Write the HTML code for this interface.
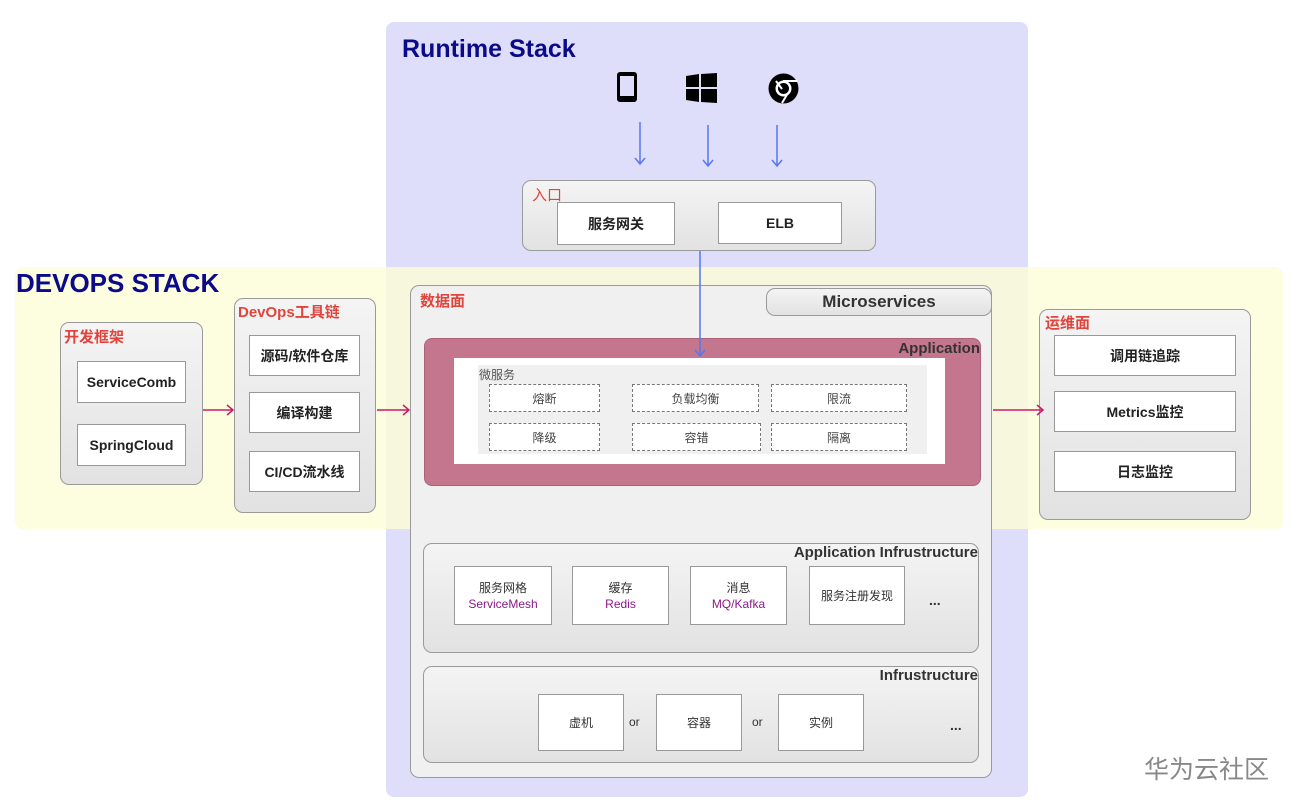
<!DOCTYPE html>
<html><head><meta charset="utf-8"><style>
*{margin:0;padding:0;box-sizing:border-box}
body{width:1291px;height:805px;background:#fff;position:relative;overflow:hidden;font-family:"Liberation Sans","Noto Sans CJK SC",sans-serif}
.a{position:absolute}
.grp{position:absolute;border:1px solid #9a9a9a;border-radius:9px;background:linear-gradient(#f4f4f4,#e2e2e2)}
.wb{position:absolute;background:#fff;border:1px solid #999;display:flex;align-items:center;justify-content:center;font-weight:bold;font-size:14px;color:#222;text-align:center}
.nb{position:absolute;background:#fff;border:1px solid #999;display:flex;flex-direction:column;align-items:center;justify-content:center;font-size:12px;color:#333;line-height:16px}
.red{color:#e0443c;font-weight:bold;font-size:15px}
.db{position:absolute;border:1px dashed #777;background:#fff;display:flex;align-items:center;justify-content:center;font-size:12px;color:#444}
.pu{color:#8a1a8a}
.h{font-weight:bold;font-size:14px;color:#333}
</style></head><body>
<div class="a" style="left:386px;top:22px;width:642px;height:775px;background:#dedefa;border-radius:8px"></div>
<div class="a" style="left:15px;top:267px;width:1268px;height:262px;background:rgba(253,253,215,0.8);border-radius:8px"></div>
<div class="a" style="left:402px;top:35px;font-size:25px;font-weight:bold;color:#0a0a8a">Runtime Stack</div>
<div class="a" style="left:16px;top:268px;font-size:26px;font-weight:bold;color:#0a0a8a">DEVOPS STACK</div>
<!-- icons -->
<div class="a" style="left:617px;top:72px;width:20px;height:30px;border:3px solid #000;border-radius:3px;border-top-width:4px;border-bottom-width:6px"></div>
<svg class="a" style="left:686px;top:73px" width="31" height="30"><path d="M0 3 L13 1 L13 14 L0 14Z M15 1 L31 0 L31 14 L15 14Z M0 16 L13 16 L13 29 L0 27Z M15 16 L31 16 L31 30 L15 29Z" fill="#000"/></svg>
<svg class="a" style="left:768px;top:73px" width="31" height="31"><circle cx="15.5" cy="15.5" r="15" fill="#000"/><circle cx="15.5" cy="15.5" r="8" fill="#fff"/><circle cx="15.5" cy="15.5" r="5.5" fill="#000"/><path d="M8 8 L14 16 M15 8 L29 8 M20 20 L14 30" stroke="#fff" stroke-width="2"/></svg>
<svg class="a" style="left:0;top:0" width="1291" height="805">
<g stroke="#5577ee" stroke-width="1.5" fill="none">
<path d="M640 122V164M635 158L640 164L645 158"/>
<path d="M708 125V166M703 160L708 166L713 160"/>
<path d="M777 125V166M772 160L777 166L782 160"/>
</g>
</svg>
<!-- entry -->
<div class="grp" style="left:522px;top:180px;width:354px;height:71px"></div>
<div class="a red" style="left:532px;top:184px;font-weight:normal">入口</div>
<div class="wb" style="left:557px;top:202px;width:118px;height:43px">服务网关</div>
<div class="wb" style="left:718px;top:202px;width:124px;height:42px">ELB</div>
<!-- devops left -->
<div class="grp" style="left:60px;top:322px;width:143px;height:163px"></div>
<div class="a red" style="left:64px;top:326px">开发框架</div>
<div class="wb" style="left:77px;top:361px;width:109px;height:42px">ServiceComb</div>
<div class="wb" style="left:77px;top:424px;width:109px;height:42px">SpringCloud</div>
<div class="grp" style="left:234px;top:298px;width:142px;height:215px"></div>
<div class="a red" style="left:238px;top:301px">DevOps工具链</div>
<div class="wb" style="left:249px;top:335px;width:111px;height:41px">源码/软件仓库</div>
<div class="wb" style="left:249px;top:392px;width:111px;height:41px">编译构建</div>
<div class="wb" style="left:249px;top:451px;width:111px;height:41px">CI/CD流水线</div>
<!-- ops -->
<div class="grp" style="left:1039px;top:309px;width:212px;height:211px"></div>
<div class="a red" style="left:1045px;top:312px">运维面</div>
<div class="wb" style="left:1054px;top:335px;width:182px;height:41px">调用链追踪</div>
<div class="wb" style="left:1054px;top:391px;width:182px;height:41px">Metrics监控</div>
<div class="wb" style="left:1054px;top:451px;width:182px;height:41px">日志监控</div>
<!-- data plane -->
<div class="grp" style="left:410px;top:285px;width:582px;height:493px;background:#f0f0f0"></div>
<div class="a red" style="left:420px;top:290px">数据面</div>
<div class="grp" style="left:766px;top:288px;width:226px;height:28px;display:flex;align-items:center;justify-content:center;font-weight:bold;font-size:17px;color:#333">Microservices</div>
<div class="a" style="left:424px;top:338px;width:557px;height:148px;background:#c4768e;border:1px solid #a9627a;border-radius:8px"></div>
<div class="a h" style="right:311px;top:340px;font-size:15px">Application</div>
<div class="a" style="left:454px;top:358px;width:491px;height:106px;background:#fff"></div>
<div class="a" style="left:478px;top:365px;width:449px;height:89px;background:#f0f0f0"></div>
<div class="a" style="left:479px;top:366px;font-size:12px;color:#555">微服务</div>
<div class="db" style="left:489px;top:384px;width:111px;height:28px">熔断</div>
<div class="db" style="left:632px;top:384px;width:127px;height:28px">负载均衡</div>
<div class="db" style="left:771px;top:384px;width:136px;height:28px">限流</div>
<div class="db" style="left:489px;top:423px;width:111px;height:28px">降级</div>
<div class="db" style="left:632px;top:423px;width:129px;height:28px">容错</div>
<div class="db" style="left:771px;top:423px;width:136px;height:28px">隔离</div>
<!-- app infra -->
<div class="grp" style="left:423px;top:543px;width:556px;height:110px"></div>
<div class="a h" style="right:313px;top:544px;font-size:15px">Application Infrustructure</div>
<div class="nb" style="left:454px;top:566px;width:98px;height:59px"><span>服务网格</span><span class="pu">ServiceMesh</span></div>
<div class="nb" style="left:572px;top:566px;width:97px;height:59px"><span>缓存</span><span class="pu">Redis</span></div>
<div class="nb" style="left:690px;top:566px;width:97px;height:59px"><span>消息</span><span class="pu">MQ/Kafka</span></div>
<div class="nb" style="left:809px;top:566px;width:96px;height:59px"><span>服务注册发现</span></div>
<div class="a" style="left:929px;top:592px;font-size:14px;font-weight:bold;color:#333">...</div>
<!-- infra -->
<div class="grp" style="left:423px;top:666px;width:556px;height:97px"></div>
<div class="a h" style="right:313px;top:667px;font-size:15px">Infrustructure</div>
<div class="nb" style="left:538px;top:694px;width:86px;height:57px">虚机</div>
<div class="nb" style="left:656px;top:694px;width:86px;height:57px">容器</div>
<div class="nb" style="left:778px;top:694px;width:86px;height:57px">实例</div>
<div class="a" style="left:629px;top:715px;font-size:12px;color:#333">or</div>
<div class="a" style="left:752px;top:715px;font-size:12px;color:#333">or</div>
<div class="a" style="left:950px;top:717px;font-size:14px;font-weight:bold;color:#333">...</div>
<svg class="a" style="left:0;top:0" width="1291" height="805">
<g stroke="#5577ee" stroke-width="1.5" fill="none"><path d="M700 251V356M695 350L700 356L705 350"/></g>
<g stroke="#cc1a6a" stroke-width="1.5" fill="none">
<path d="M203 410H233M227 405L233 410L227 415"/>
<path d="M377 410H409M403 405L409 410L403 415"/>
<path d="M993 410H1043M1037 405L1043 410L1037 415"/>
</g>
</svg>
<div class="a" style="left:1144px;top:750px;font-size:25px;color:#888">华为云社区</div>
</body></html>
